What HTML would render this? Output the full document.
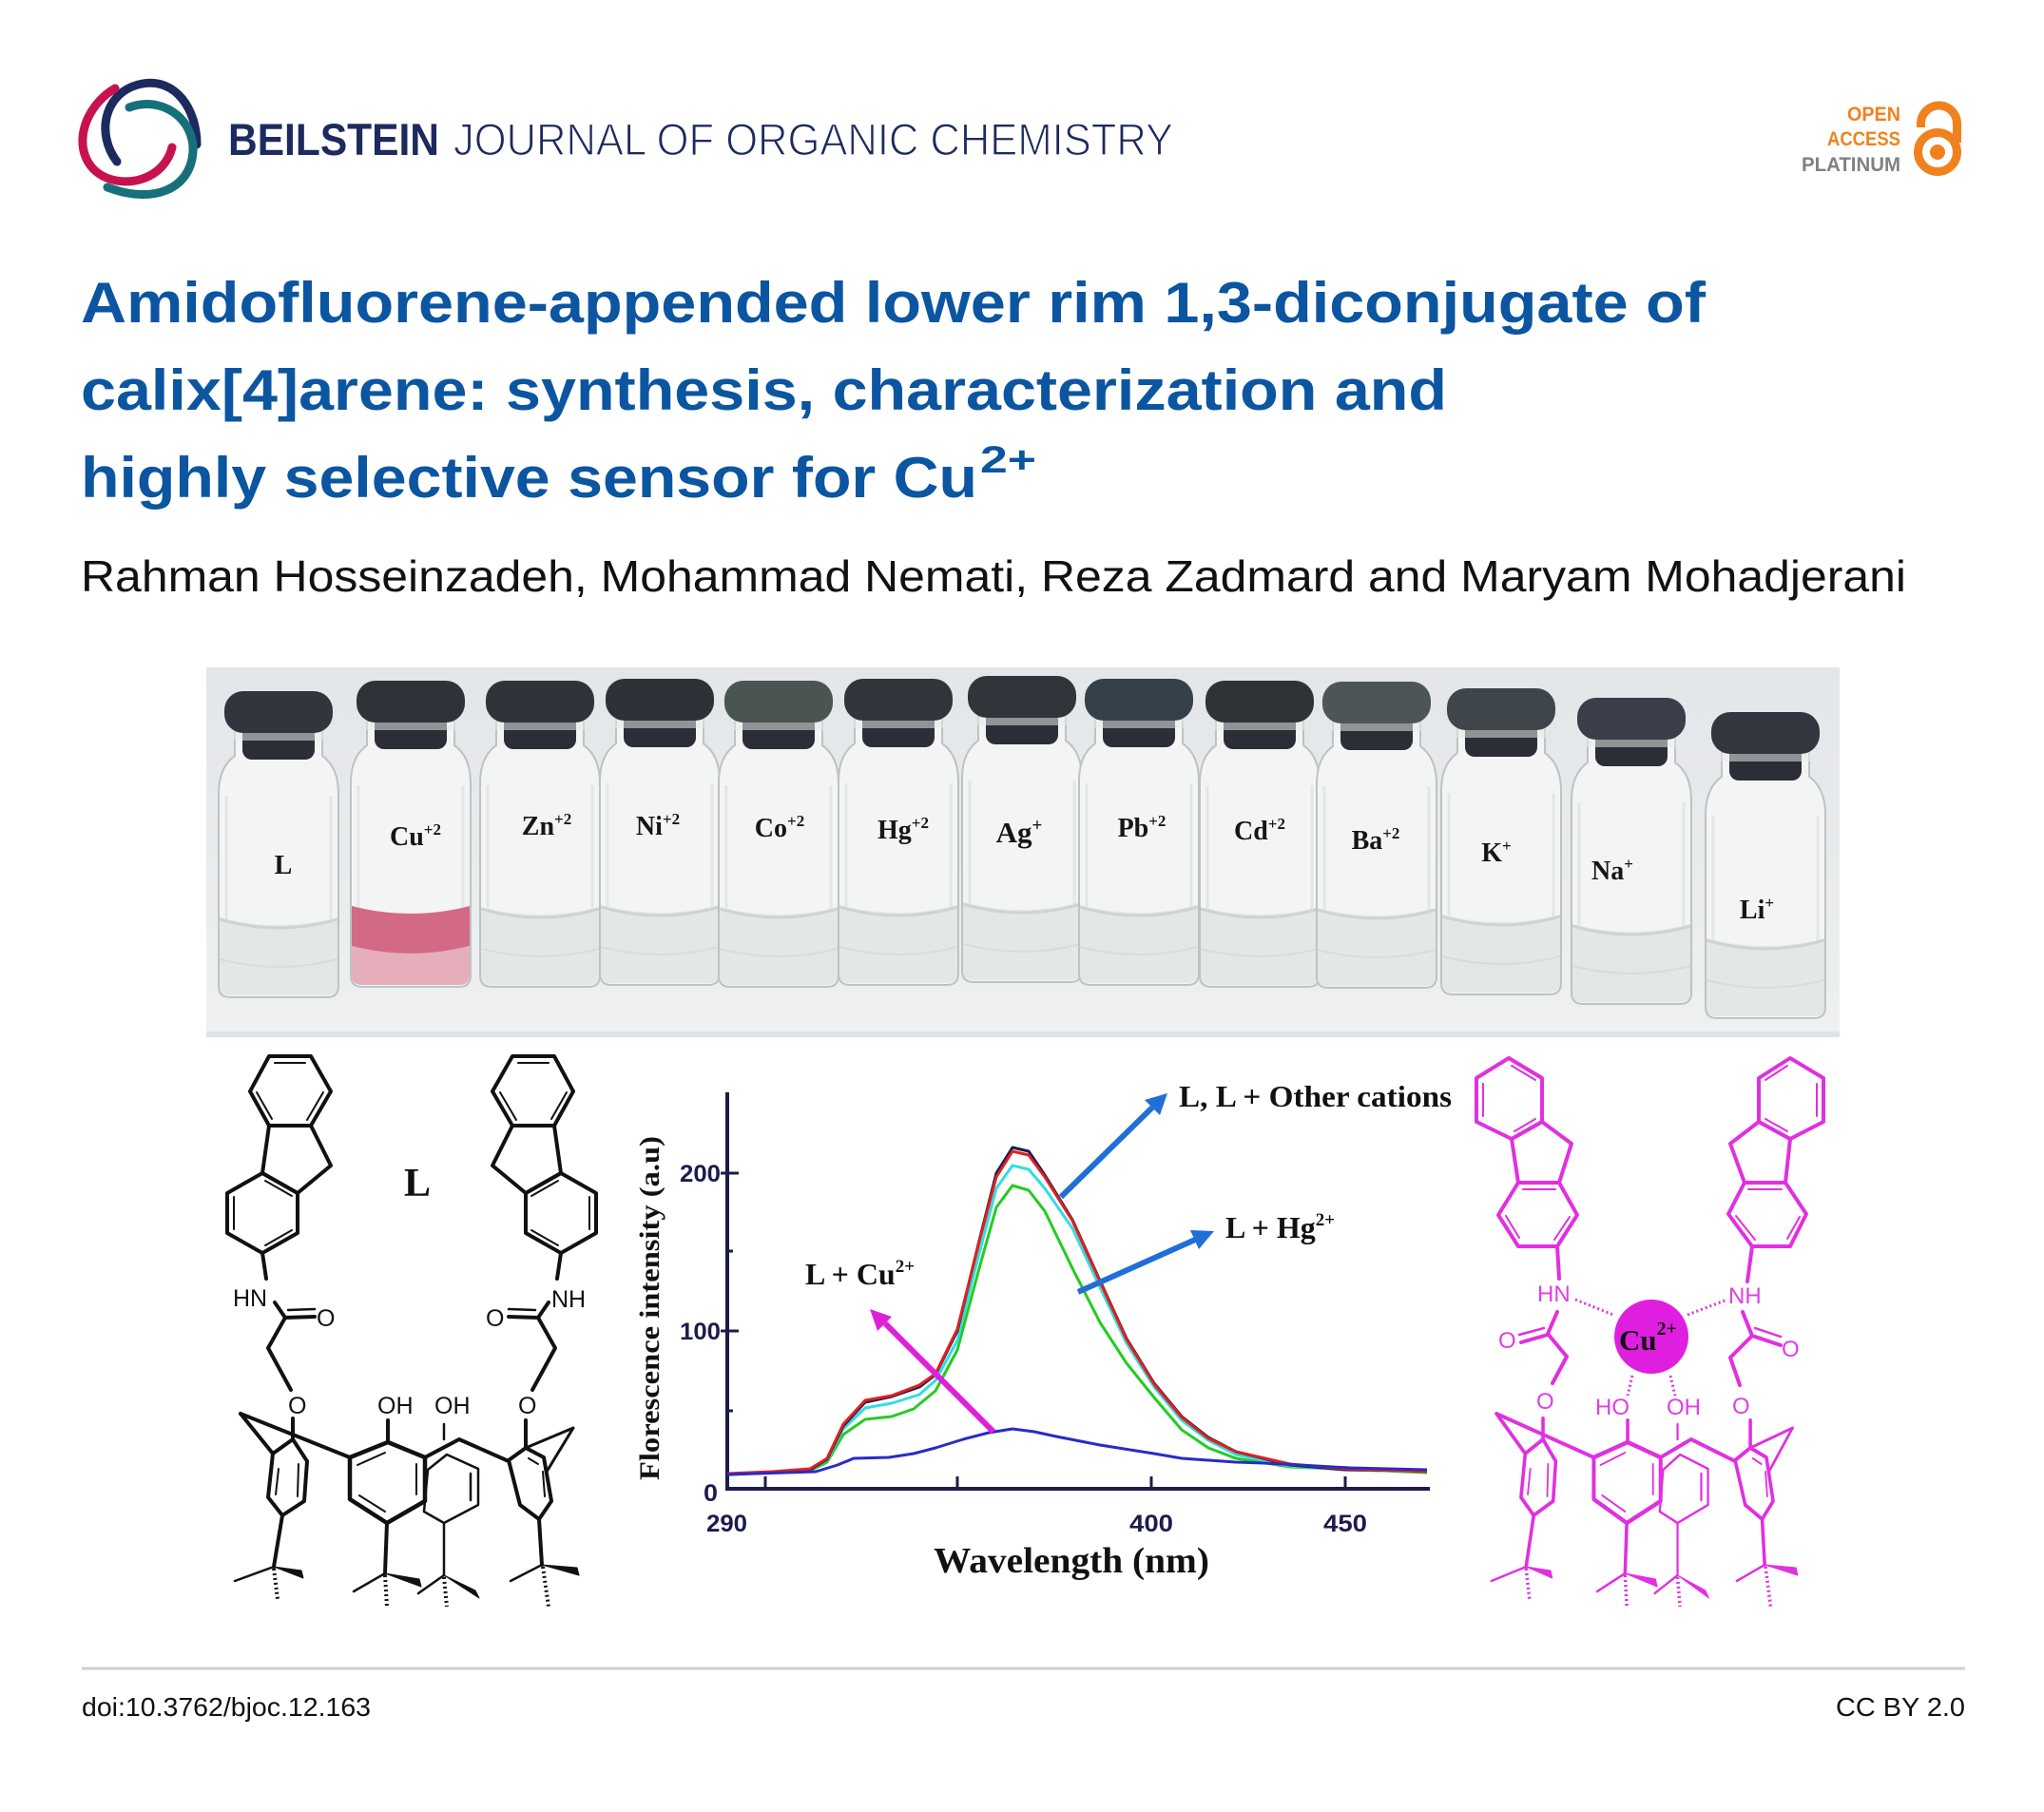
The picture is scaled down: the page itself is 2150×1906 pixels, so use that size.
<!DOCTYPE html>
<html><head><meta charset="utf-8"><style>html,body{margin:0;padding:0;background:#fff}svg{display:block}</style></head>
<body>
<svg xmlns="http://www.w3.org/2000/svg" xmlns:xlink="http://www.w3.org/1999/xlink" width="2150" height="1906" viewBox="0 0 2150 1906">
<defs>
  <linearGradient id="bg" x1="0" y1="0" x2="0" y2="1">
    <stop offset="0" stop-color="#e3e6e9"/><stop offset="1" stop-color="#eef0f1"/>
  </linearGradient>
  <g id="vial">
    <path d="M -46 42 L -46 68 Q -63 80 -63 108 L -63 310 Q -63 322 -51 322 L 51 322 Q 63 322 63 310 L 63 108 Q 63 80 46 68 L 46 42 Z" fill="#f3f5f4" stroke="#bcc4c1" stroke-width="2"/>
    <path d="M -55 110 L -55 300 M 55 110 L 55 300" stroke="#e2e7e5" stroke-width="3" fill="none"/>
    <path d="M -62 238 Q 0 254 62 238 L 62 310 Q 62 320 51 320 L -51 320 Q -62 320 -62 310 Z" fill="#e3e8e7"/>
    <path d="M -62 240 Q 0 258 62 240" stroke="#cdd4d2" stroke-width="3" fill="none"/>
    <path d="M -62 282 Q 0 298 62 282" stroke="#d6dcdb" stroke-width="2" fill="none"/>
    <rect x="-38" y="28" width="76" height="44" rx="10" fill="#2b2e36"/>
    <rect x="-52" y="36" width="104" height="16" rx="6" fill="#e5e9e8" opacity="0.55"/>
    <rect x="-57" y="0" width="114" height="44" rx="20" fill="currentColor"/>
  </g>
  <g id="fluoL" fill="none" stroke="#111" stroke-width="4" stroke-linejoin="round" stroke-linecap="round">
    <polygon points="283,1111 327,1111 348,1148 327,1184 283,1184 263,1148"/>
    <polygon points="283,1184 327,1184 348,1226 313,1255 276,1234"/>
    <polygon points="276,1234 313,1255 313,1297 276,1318 239,1297 239,1255"/>
    <g stroke-width="2">
      <line x1="289" y1="1118" x2="321" y2="1118"/>
      <line x1="340" y1="1149" x2="323" y2="1178"/>
      <line x1="286" y1="1177" x2="270" y2="1149"/>
      <line x1="279" y1="1242" x2="307" y2="1258"/>
      <line x1="307" y1="1294" x2="279" y2="1310"/>
      <line x1="246" y1="1293" x2="246" y2="1259"/>
    </g>
    <line x1="276" y1="1318" x2="280" y2="1345"/>
    <polyline points="289,1370 300,1386 282,1418 306,1462"/>
    <line x1="300" y1="1386" x2="331" y2="1385"/>
    <line x1="303" y1="1378" x2="331" y2="1377" stroke-width="2.5"/>
  </g>
  <g id="calix" fill="none" stroke="currentColor" stroke-width="4" stroke-linejoin="round" stroke-linecap="round">
    <line x1="308" y1="1492" x2="308" y2="1514"/>
    <line x1="253" y1="1487" x2="368" y2="1533"/>
    <line x1="253" y1="1487" x2="287" y2="1529"/>
    <polygon points="287,1529 308,1514 323,1537 320,1579 297,1594 282,1575"/>
    <g stroke-width="2"><line x1="293" y1="1545" x2="290" y2="1572"/><line x1="314" y1="1540" x2="313" y2="1574"/></g>
    <line x1="297" y1="1594" x2="288" y2="1648"/>
    <line x1="288" y1="1648" x2="247" y2="1663" stroke-width="2.5"/>
    <polygon points="288,1648 317,1652 319,1660" fill="currentColor" stroke-width="1"/>
    <line x1="288" y1="1650" x2="292" y2="1682" stroke-width="4" stroke-dasharray="2 3" stroke-linecap="butt"/>
    <polygon points="368,1533 408,1517 447,1533 447,1579 407,1602 368,1577" stroke-width="4.5"/>
    <g stroke-width="2"><line x1="376" y1="1541" x2="405" y2="1528"/><line x1="438" y1="1540" x2="438" y2="1572"/><line x1="378" y1="1573" x2="405" y2="1590"/></g>
    <line x1="408" y1="1517" x2="408" y2="1494"/>
    <line x1="407" y1="1602" x2="405" y2="1655"/>
    <line x1="405" y1="1655" x2="372" y2="1674" stroke-width="2.5"/>
    <polygon points="405,1655 441,1661 443,1669" fill="currentColor" stroke-width="1"/>
    <line x1="405" y1="1657" x2="407" y2="1690" stroke-width="4" stroke-dasharray="2 3" stroke-linecap="butt"/>
    <polyline points="447,1533 483,1514 535,1537"/>
    <g stroke-width="2.5">
      <polygon points="450,1546 470,1530 503,1545 503,1583 467,1602 446,1590"/>
      <line x1="495" y1="1550" x2="495" y2="1578"/>
      <line x1="467" y1="1498" x2="467" y2="1514"/>
      <line x1="467" y1="1602" x2="467" y2="1657"/>
      <line x1="467" y1="1657" x2="440" y2="1676"/>
      <line x1="467" y1="1659" x2="470" y2="1690" stroke-width="4" stroke-dasharray="2 3" stroke-linecap="butt"/>
    </g>
    <polygon points="467,1657 500,1673 504,1681" fill="currentColor" stroke-width="1"/>
    <polygon points="535,1536 553,1523 572,1533 580,1579 567,1598 547,1583"/>
    <g stroke-width="2"><line x1="556" y1="1534" x2="566" y2="1540"/><line x1="571" y1="1548" x2="573" y2="1574"/></g>
    <line x1="553" y1="1494" x2="553" y2="1523"/>
    <polyline points="553,1523 603,1502 575,1548" stroke-width="3"/>
    <line x1="567" y1="1598" x2="570" y2="1646"/>
    <line x1="570" y1="1646" x2="537" y2="1663" stroke-width="2.5"/>
    <polygon points="570,1646 607,1649 609,1657" fill="currentColor" stroke-width="1"/>
    <line x1="571" y1="1648" x2="577" y2="1690" stroke-width="4" stroke-dasharray="2 3" stroke-linecap="butt"/>
  </g>
</defs>

<rect width="2150" height="1906" fill="#fff"/>

<!-- Logo -->
<g fill="none" stroke-linecap="round" stroke-width="9">
  <path d="M 123 170 C 100 140, 110 95, 150 88 C 185 82, 207 115, 207 152" stroke="#1c2a5f"/>
  <path d="M 136 113 C 170 100, 205 125, 203 160 C 200 200, 160 215, 113 197" stroke="#16707b"/>
  <path d="M 121 93 C 95 108, 80 140, 90 165 C 100 190, 130 195, 150 188 C 168 182, 178 168, 181 155" stroke="#c8124f"/>
</g>
<text x="240" y="163" font-family="Liberation Sans, sans-serif" font-size="47" font-weight="bold" fill="#1d2a5e" textLength="222" lengthAdjust="spacingAndGlyphs">BEILSTEIN</text>
<text x="477" y="163" font-family="Liberation Sans, sans-serif" font-size="47" fill="#1d2a5e" stroke="#ffffff" stroke-width="1.3" textLength="757" lengthAdjust="spacingAndGlyphs">JOURNAL OF ORGANIC CHEMISTRY</text>

<!-- Open access -->
<g font-family="Liberation Sans, sans-serif" font-weight="bold" font-size="21" text-anchor="end">
  <text x="1999" y="127" fill="#f0821e" textLength="56" lengthAdjust="spacingAndGlyphs">OPEN</text>
  <text x="1999" y="153" fill="#f0821e" textLength="77" lengthAdjust="spacingAndGlyphs">ACCESS</text>
  <text x="1999" y="180" fill="#808080" textLength="104" lengthAdjust="spacingAndGlyphs">PLATINUM</text>
</g>
<path d="M 2020.5 134 L 2020.5 130 A 19 19 0 0 1 2058.5 130 L 2058.5 150" fill="none" stroke="#f0821e" stroke-width="9"/>
<circle cx="2038" cy="160" r="20.5" fill="none" stroke="#f0821e" stroke-width="9"/>
<circle cx="2038" cy="160" r="8" fill="#f0821e"/>

<!-- Title -->
<g font-family="Liberation Sans, sans-serif" font-weight="bold" font-size="60" fill="#0b55a1">
  <text x="85" y="339" textLength="1709" lengthAdjust="spacingAndGlyphs">Amidofluorene-appended lower rim 1,3-diconjugate of</text>
  <text x="85" y="431" textLength="1437" lengthAdjust="spacingAndGlyphs">calix[4]arene: synthesis, characterization and</text>
  <text x="85" y="523" textLength="943" lengthAdjust="spacingAndGlyphs">highly selective sensor for Cu</text>
  <text x="1031" y="497" font-size="40" textLength="59" lengthAdjust="spacingAndGlyphs">2+</text>
</g>
<text x="85" y="622" font-family="Liberation Sans, sans-serif" font-size="46" fill="#111" textLength="1920" lengthAdjust="spacingAndGlyphs">Rahman Hosseinzadeh, Mohammad Nemati, Reza Zadmard and Maryam Mohadjerani</text>

<!-- Photo -->
<rect x="217" y="702" width="1718" height="389" fill="url(#bg)"/>
<rect x="217" y="1085" width="1718" height="6" fill="#dde3ea"/>
<use xlink:href="#vial" transform="translate(293,727)" color="#32353d"/>
<use xlink:href="#vial" transform="translate(432,716)" color="#2f3238"/>
<path d="M 370 953 Q 432 969 494 953 L 494 995 Q 432 1011 370 995 Z" fill="#d26a85"/>
<path d="M 370 995 Q 432 1011 494 995 L 494 1026 Q 494 1036 483 1036 L 381 1036 Q 370 1036 370 1026 Z" fill="#e6adbb"/>
<use xlink:href="#vial" transform="translate(568,716)" color="#30343a"/>
<use xlink:href="#vial" transform="translate(694,714)" color="#2e3238"/>
<use xlink:href="#vial" transform="translate(819,716)" color="#4a5551"/>
<use xlink:href="#vial" transform="translate(945,714)" color="#31353b"/>
<use xlink:href="#vial" transform="translate(1075,711)" color="#30353b"/>
<use xlink:href="#vial" transform="translate(1198,714)" color="#36404a"/>
<use xlink:href="#vial" transform="translate(1325,716)" color="#2f3338"/>
<use xlink:href="#vial" transform="translate(1448,717)" color="#4d5656"/>
<use xlink:href="#vial" transform="translate(1579,724)" color="#3f464b"/>
<use xlink:href="#vial" transform="translate(1716,734)" color="#3a3e48"/>
<use xlink:href="#vial" transform="translate(1857,749)" color="#33363e"/>
<g font-family="Liberation Serif, serif" font-weight="bold" font-size="28" fill="#151515" text-anchor="middle">
  <text x="298" y="919">L</text>
  <text x="437" y="889">Cu<tspan font-size="17" dy="-11">+2</tspan></text>
  <text x="575" y="878">Zn<tspan font-size="17" dy="-11">+2</tspan></text>
  <text x="692" y="878">Ni<tspan font-size="17" dy="-11">+2</tspan></text>
  <text x="820" y="880">Co<tspan font-size="17" dy="-11">+2</tspan></text>
  <text x="950" y="882">Hg<tspan font-size="17" dy="-11">+2</tspan></text>
  <text x="1072" y="886" font-size="31">Ag<tspan font-size="19" dy="-12">+</tspan></text>
  <text x="1201" y="880">Pb<tspan font-size="17" dy="-11">+2</tspan></text>
  <text x="1325" y="883">Cd<tspan font-size="17" dy="-11">+2</tspan></text>
  <text x="1447" y="893">Ba<tspan font-size="17" dy="-11">+2</tspan></text>
  <text x="1574" y="906">K<tspan font-size="17" dy="-11">+</tspan></text>
  <text x="1696" y="925">Na<tspan font-size="17" dy="-11">+</tspan></text>
  <text x="1848" y="966">Li<tspan font-size="17" dy="-11">+</tspan></text>
</g>

<!-- Left structure -->
<use xlink:href="#fluoL"/>
<use xlink:href="#fluoL" transform="translate(866,0) scale(-1,1)"/>
<use xlink:href="#calix" color="#111"/>
<g font-family="Liberation Sans, sans-serif" font-size="25" fill="#111">
  <text x="245" y="1374">HN</text>
  <text x="580" y="1375">NH</text>
  <text x="333" y="1395">O</text>
  <text x="511" y="1395">O</text>
  <text x="303" y="1487">O</text>
  <text x="545" y="1487">O</text>
  <text x="397" y="1487">OH</text>
  <text x="457" y="1487">OH</text>
</g>
<text x="425" y="1258" font-family="Liberation Serif, serif" font-weight="bold" font-size="42" fill="#111">L</text>

<!-- Right magenta structure -->
<g fill="none" stroke="#e030e0" stroke-width="4" stroke-linejoin="round" stroke-linecap="round">
  <polygon points="1587,1113 1622,1134 1622,1180 1590,1198 1553,1180 1553,1134"/>
  <polygon points="1622,1180 1653,1203 1640,1244 1597,1244 1590,1198"/>
  <polygon points="1597,1244 1640,1244 1659,1278 1638,1311 1597,1311 1576,1278"/>
  <polygon points="1883,1113 1918,1134 1918,1180 1883,1198 1850,1180 1850,1134"/>
  <polygon points="1850,1180 1820,1203 1835,1244 1878,1244 1883,1198"/>
  <polygon points="1835,1244 1878,1244 1900,1277 1883,1311 1843,1311 1818,1277"/>
  <g stroke-width="2">
    <line x1="1560" y1="1140" x2="1560" y2="1174"/><line x1="1590" y1="1121" x2="1615" y2="1136"/><line x1="1593" y1="1190" x2="1615" y2="1177"/>
    <line x1="1602" y1="1251" x2="1636" y2="1251"/><line x1="1651" y1="1280" x2="1635" y2="1304"/><line x1="1584" y1="1279" x2="1598" y2="1302"/>
    <line x1="1911" y1="1140" x2="1911" y2="1174"/><line x1="1880" y1="1121" x2="1857" y2="1136"/><line x1="1880" y1="1190" x2="1857" y2="1177"/>
    <line x1="1839" y1="1251" x2="1874" y2="1251"/><line x1="1826" y1="1279" x2="1846" y2="1304"/><line x1="1893" y1="1280" x2="1880" y2="1303"/>
  </g>
  <line x1="1638" y1="1311" x2="1640" y2="1345"/>
  <line x1="1843" y1="1311" x2="1838" y2="1348"/>
  <polyline points="1638,1380 1628,1403 1648,1427 1633,1455"/>
  <line x1="1600" y1="1412" x2="1628" y2="1404"/>
  <line x1="1598" y1="1404" x2="1624" y2="1397" stroke-width="2.5"/>
  <polyline points="1833,1380 1843,1405 1820,1428 1830,1457"/>
  <line x1="1843" y1="1405" x2="1873" y2="1415"/>
  <line x1="1846" y1="1397" x2="1873" y2="1406" stroke-width="2.5"/>
  <g stroke-width="3" stroke-dasharray="2 3" stroke-linecap="butt">
    <line x1="1657" y1="1367" x2="1697" y2="1383"/>
    <line x1="1775" y1="1383" x2="1817" y2="1367"/>
    <line x1="1717" y1="1447" x2="1712" y2="1468"/>
    <line x1="1757" y1="1447" x2="1762" y2="1468"/>
  </g>
</g>
<use xlink:href="#calix" color="#e030e0" transform="translate(1728.5,0) scale(0.89,1) translate(-426.5,0)"/>
<circle cx="1737" cy="1406" r="39" fill="#e01ee0"/>
<text x="1703" y="1420" font-family="Liberation Serif, serif" font-weight="bold" font-size="31" fill="#111">Cu<tspan font-size="20" dy="-16">2+</tspan></text>
<g font-family="Liberation Sans, sans-serif" font-size="24" fill="#e040e0">
  <text x="1617" y="1369">HN</text>
  <text x="1818" y="1371">NH</text>
  <text x="1576" y="1418">O</text>
  <text x="1874" y="1427">O</text>
  <text x="1616" y="1482">O</text>
  <text x="1822" y="1487">O</text>
  <text x="1678" y="1488">HO</text>
  <text x="1753" y="1488">OH</text>
</g>

<!-- Chart -->
<g stroke="#1c1c4a" stroke-width="4" fill="none">
  <line x1="765" y1="1149" x2="765" y2="1568"/>
  <line x1="763" y1="1566" x2="1504" y2="1566"/>
  <line x1="758" y1="1234" x2="777" y2="1234" stroke-width="3"/>
  <line x1="758" y1="1400" x2="777" y2="1400" stroke-width="3"/>
  <line x1="765" y1="1316" x2="771" y2="1316" stroke-width="3"/>
  <line x1="765" y1="1484" x2="771" y2="1484" stroke-width="3"/>
  <line x1="805" y1="1566" x2="805" y2="1553" stroke-width="3"/>
  <line x1="1007" y1="1566" x2="1007" y2="1553" stroke-width="3"/>
  <line x1="1211" y1="1566" x2="1211" y2="1553" stroke-width="3"/>
  <line x1="1415" y1="1566" x2="1415" y2="1553" stroke-width="3"/>
</g>
<g font-family="Liberation Sans, sans-serif" font-size="25" font-weight="bold" fill="#1c1c50">
  <text x="758" y="1243" text-anchor="end" textLength="43" lengthAdjust="spacingAndGlyphs">200</text>
  <text x="758" y="1409" text-anchor="end" textLength="43" lengthAdjust="spacingAndGlyphs">100</text>
  <text x="755" y="1579" text-anchor="end" textLength="15" lengthAdjust="spacingAndGlyphs">0</text>
  <text x="743" y="1611" textLength="43" lengthAdjust="spacingAndGlyphs">290</text>
  <text x="1188" y="1611" textLength="46" lengthAdjust="spacingAndGlyphs">400</text>
  <text x="1392" y="1611" textLength="46" lengthAdjust="spacingAndGlyphs">450</text>
</g>
<text transform="translate(693,1376) rotate(-90)" text-anchor="middle" font-family="Liberation Serif, serif" font-weight="bold" font-size="30" fill="#111" textLength="362" lengthAdjust="spacingAndGlyphs">Florescence intensity (a.u)</text>
<text x="982" y="1654" font-family="Liberation Serif, serif" font-weight="bold" font-size="38" fill="#111" textLength="290" lengthAdjust="spacingAndGlyphs">Wavelength (nm)</text>

<g fill="none" stroke-width="3" stroke-linejoin="round">
  <polyline stroke="#22cc22" points="765,1551 852,1547 870,1538 887,1509 910,1493 938,1490 961,1482 984,1463 1007,1420 1030,1334 1048,1270 1065,1247 1082,1252 1099,1274 1128,1334 1157,1391 1185,1434 1214,1470 1243,1504 1271,1523 1300,1534 1357,1543 1501,1549"/>
  <polyline stroke="#30dede" points="765,1551 812,1549 852,1546 870,1536 887,1503 910,1481 938,1476 967,1467 984,1452 1007,1410 1030,1318 1048,1250 1065,1226 1082,1230 1099,1250 1128,1292 1157,1354 1185,1413 1214,1459 1243,1494 1271,1515 1300,1530 1357,1542 1415,1546 1501,1548"/>
  <polyline stroke="#1a1a50" points="765,1551 812,1549 852,1546 870,1535 887,1500 910,1475 938,1469 967,1459 984,1446 1007,1400 1030,1305 1048,1234 1065,1207 1082,1211 1099,1236 1128,1283 1157,1347 1185,1408 1214,1455 1243,1490 1271,1512 1300,1527 1357,1541 1415,1546 1501,1547"/>
  <polyline stroke="#e02020" points="765,1550 812,1548 852,1545 870,1534 887,1498 910,1473 938,1468 967,1457 984,1445 1007,1398 1030,1306 1048,1238 1065,1211 1082,1215 1099,1238 1128,1284 1157,1348 1185,1409 1214,1456 1243,1491 1271,1513 1300,1527 1357,1540 1415,1545 1501,1548"/>
  <polyline stroke="#2a2ac8" points="765,1551 858,1548 881,1541 898,1534 935,1533 961,1529 984,1523 1013,1514 1040,1507 1065,1503 1088,1506 1111,1511 1157,1520 1214,1529 1243,1534 1300,1538 1329,1539 1420,1544 1501,1546"/>
</g>
<!-- Arrows -->
<g stroke-width="6" fill="none">
  <line x1="1116" y1="1259" x2="1212" y2="1165" stroke="#1f6fd6"/>
  <line x1="1134" y1="1359" x2="1257" y2="1304" stroke="#1f6fd6"/>
  <line x1="1045" y1="1506" x2="931" y2="1392" stroke="#e020d8"/>
</g>
<polygon points="1228,1150 1220,1173 1204,1157" fill="#1f6fd6"/>
<polygon points="1277,1295 1261,1314 1252,1294" fill="#1f6fd6"/>
<polygon points="915,1377 938,1385 923,1400" fill="#e020d8"/>
<g font-family="Liberation Serif, serif" font-weight="bold" font-size="32" fill="#111">
  <text x="1240" y="1164" textLength="287" lengthAdjust="spacingAndGlyphs">L, L + Other cations</text>
  <text x="1289" y="1302">L + Hg<tspan font-size="19" dy="-13">2+</tspan></text>
  <text x="847" y="1351">L + Cu<tspan font-size="19" dy="-13">2+</tspan></text>
</g>

<!-- Footer -->
<line x1="86" y1="1755" x2="2067" y2="1755" stroke="#cfcfcf" stroke-width="3"/>
<text x="86" y="1805" font-family="Liberation Sans, sans-serif" font-size="28" fill="#111" textLength="304" lengthAdjust="spacingAndGlyphs">doi:10.3762/bjoc.12.163</text>
<text x="2067" y="1805" text-anchor="end" font-family="Liberation Sans, sans-serif" font-size="28" fill="#111" textLength="136" lengthAdjust="spacingAndGlyphs">CC BY 2.0</text>
</svg>
</body></html>
